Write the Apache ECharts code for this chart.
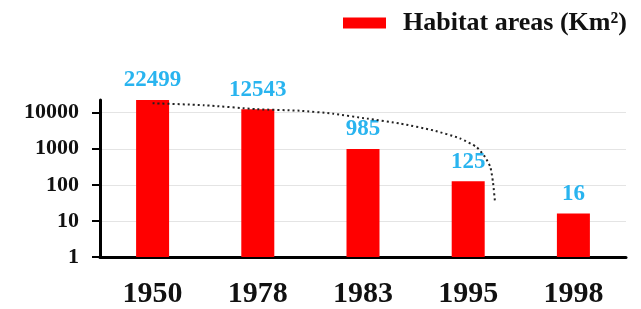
<!DOCTYPE html>
<html>
<head>
<meta charset="utf-8">
<script src="https://cdn.jsdelivr.net/npm/echarts@6/dist/echarts.min.js"></script>
<style>
  html, body { margin: 0; padding: 0; background: #fff; }
  #chart { width: 641px; height: 309px; }
</style>
</head>
<body>
<div id="chart"></div>
<script>
// values
const years = ['1950', '1978', '1983', '1995', '1998']
const habitatAreas = [22499, 12543, 985, 125, 16]
// dotted trend curve: [category position, value]
const trendPoints = [
  [0, 18280], [0.49, 16140], [0.99, 12530], [1.40, 11340], [1.715, 9390],
  [2.04, 6850], [2.355, 5000], [2.67, 3220], [2.92, 1950], [3.08, 1107],
  [3.16, 589], [3.21, 314], [3.235, 122], [3.255, 33]
]

const serif = '"Liberation Serif", "DejaVu Serif", serif'

const chart = echarts.init(document.getElementById('chart'))

chart.setOption({
  animation: false,
  legend: {
    data: ['Habitat areas (Km²)'],
    left: 338,
    top: 5,
    icon: 'rect',
    itemWidth: 43,
    itemHeight: 11,
    textStyle: {
      fontFamily: serif,
      fontWeight: 'bold',
      fontSize: 26,
      color: '#111',
      padding: [0, 0, 0, 12]
    }
  },
  grid: {
    left: 100,
    right: 15,
    top: 100,
    bottom: 51
  },
  xAxis: [
    {
      type: 'category',
      data: years,
      axisLine: { lineStyle: { color: '#000', width: 3 } },
      axisTick: { length: 8, lineStyle: { color: '#000', width: 3 } },
      axisLabel: {
        margin: 22,
        fontFamily: serif,
        fontWeight: 'bold',
        fontSize: 30,
        color: '#111'
      }
    },
    {
      type: 'value',
      min: -0.5,
      max: 4.5,
      show: false
    }
  ],
  yAxis: {
    type: 'log',
    logBase: 10,
    min: 1,
    max: 22499,
    axisLine: { show: true, onZero: false, lineStyle: { color: '#000', width: 3 } },
    axisTick: { show: true, length: 8, lineStyle: { color: '#000', width: 2 } },
    axisLabel: {
      margin: 21,
      showMaxLabel: false,
      formatter: v => String(Math.round(v)),
      fontFamily: serif,
      fontWeight: 'bold',
      fontSize: 22,
      color: '#111'
    },
    splitLine: {
      lineStyle: { color: ['#e4e4e4', '#e4e4e4', '#e4e4e4', '#e4e4e4', '#e4e4e4', '#fff'], width: 1 }
    }
  },
  series: [
    {
      name: 'Habitat areas (Km²)',
      type: 'bar',
      data: habitatAreas,
      barWidth: 33,
      itemStyle: { color: '#ff0000' },
      label: {
        show: true,
        position: 'top',
        distance: 8,
        fontFamily: serif,
        fontWeight: 'bold',
        fontSize: 23,
        color: '#29b4ef'
      }
    },
    {
      name: 'trend',
      type: 'line',
      xAxisIndex: 1,
      data: trendPoints,
      smooth: 0.2,
      symbol: 'none',
      lineStyle: { color: '#222', width: 2, type: [2, 3] },
      z: 5
    }
  ]
})
</script>
</body>
</html>
